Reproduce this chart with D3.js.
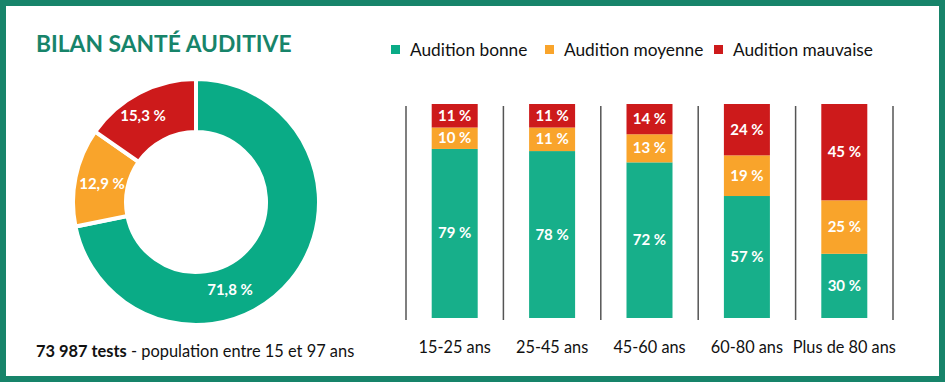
<!DOCTYPE html>
<html>
<head>
<meta charset="utf-8">
<script src="https://cdn.jsdelivr.net/npm/d3@7"></script>
<style>
  body { margin: 0; background: #fff; }
  text { font-family: Lato, "Noto Sans", sans-serif; }
</style>
</head>
<body>
<script>
const W = 945;
const H = 382;
const BORDER = '#17846a';

// data
const levels = ['Audition bonne', 'Audition moyenne', 'Audition mauvaise'];
const levelColors = ['#0aab86', '#f9a42b', '#cd1a1b'];
const barColors = ['#17af8a', '#f9a42b', '#cd1a1b'];
const totalShares = [71.8, 12.9, 15.3];
const ageGroups = ['15-25 ans', '25-45 ans', '45-60 ans', '60-80 ans', 'Plus de 80 ans'];
const bonne = [79, 78, 72, 57, 30];
const moyenne = [10, 11, 13, 19, 25];
const mauvaise = [11, 11, 14, 24, 45];
const testCount = '73 987 tests';
const subtitle = ' - population entre 15 et 97 ans';

const fmt = v => String(v).replace('.', ',') + ' %';

const svg = d3.select('body').append('svg')
    .attr('width', W)
    .attr('height', H);

// frame
svg.append('rect')
  .attr('x', 3).attr('y', 3)
  .attr('width', W - 6).attr('height', H - 6)
  .attr('fill', '#fff')
  .attr('stroke', BORDER)
  .attr('stroke-width', 6);

svg.append('text')
  .attr('x', 36).attr('y', 52)
  .attr('fill', BORDER)
  .attr('font-size', 22.8)
  .attr('font-weight', 700)
  .text('BILAN SANTÉ AUDITIVE');

// donut
const cx = 196, cy = 202;
const pie = d3.pie().sort(null).value(d => d);
const arc = d3.arc().innerRadius(70).outerRadius(123);
const slices = pie(totalShares);

const donut = svg.append('g').attr('transform', `translate(${cx},${cy})`);
donut.selectAll('path')
  .data(slices)
  .join('path')
  .attr('d', arc)
  .attr('fill', (d, i) => levelColors[i])
  .attr('stroke', '#fff')
  .attr('stroke-width', 4);

const labelPos = [[34, 88], [-94, -18], [-53, -86]];
donut.selectAll('text.lbl')
  .data(slices)
  .join('text')
  .attr('class', 'lbl')
  .attr('x', (d, i) => labelPos[i][0])
  .attr('y', (d, i) => labelPos[i][1] + 5)
  .attr('text-anchor', 'middle')
  .attr('fill', '#fff')
  .attr('font-size', 15)
  .attr('font-weight', 700)
  .text(d => fmt(d.data));

// legend
const legendX = [391, 545, 714];
const legend = svg.append('g');
levels.forEach((name, i) => {
  legend.append('rect')
    .attr('x', legendX[i]).attr('y', 45)
    .attr('width', 9).attr('height', 9)
    .attr('fill', levelColors[i]);
  legend.append('text')
    .attr('x', legendX[i] + 19).attr('y', 56)
    .attr('font-size', 17.3)
    .attr('fill', '#111')
    .text(name);
});

// stacked bars
const rows = ageGroups.map((g, i) => ({ group: g, bonne: bonne[i], moyenne: moyenne[i], mauvaise: mauvaise[i] }));
const stack = d3.stack().keys(['bonne', 'moyenne', 'mauvaise']).offset(d3.stackOffsetExpand);
const series = stack(rows);

const x = d3.scaleBand().domain(ageGroups).range([406, 893]);
const y = d3.scaleLinear().domain([0, 1]).range([318, 104]);
const barW = 46;

// separators
svg.append('g')
  .selectAll('line')
  .data(d3.range(ageGroups.length + 1))
  .join('line')
  .attr('x1', i => 406 + i * x.bandwidth())
  .attr('x2', i => 406 + i * x.bandwidth())
  .attr('y1', 106).attr('y2', 320)
  .attr('stroke', '#555')
  .attr('stroke-width', 1.5);

const layers = svg.append('g').selectAll('g')
  .data(series)
  .join('g')
  .attr('fill', (d, i) => barColors[i]);

layers.selectAll('rect')
  .data(d => d)
  .join('rect')
  .attr('x', d => x(d.data.group) + x.bandwidth() / 2 - barW / 2)
  .attr('y', d => y(d[1]))
  .attr('width', barW)
  .attr('height', d => y(d[0]) - y(d[1]));

series.forEach(s => {
  svg.append('g').selectAll('text')
    .data(s)
    .join('text')
    .attr('x', d => x(d.data.group) + x.bandwidth() / 2)
    .attr('y', d => (y(d[0]) + y(d[1])) / 2 + 5)
    .attr('text-anchor', 'middle')
    .attr('fill', '#fff')
    .attr('font-size', 15)
    .attr('font-weight', 700)
    .text(d => d.data[s.key] + ' %');
});

// category axis labels
const xAxis = d3.axisBottom(x).tickSize(0).tickPadding(0);
const axisG = svg.append('g')
  .attr('transform', 'translate(0,341)')
  .call(xAxis);
axisG.select('.domain').remove();
axisG.selectAll('text')
  .attr('font-size', 16.3)
  .attr('font-family', 'Lato, sans-serif')
  .attr('fill', '#111');

// footer
const foot = svg.append('text')
  .attr('x', 36).attr('y', 357)
  .attr('font-size', 16.4)
  .attr('fill', '#111');
foot.append('tspan').attr('font-weight', 700).text(testCount);
foot.append('tspan').text(subtitle);
</script>
</body>
</html>
